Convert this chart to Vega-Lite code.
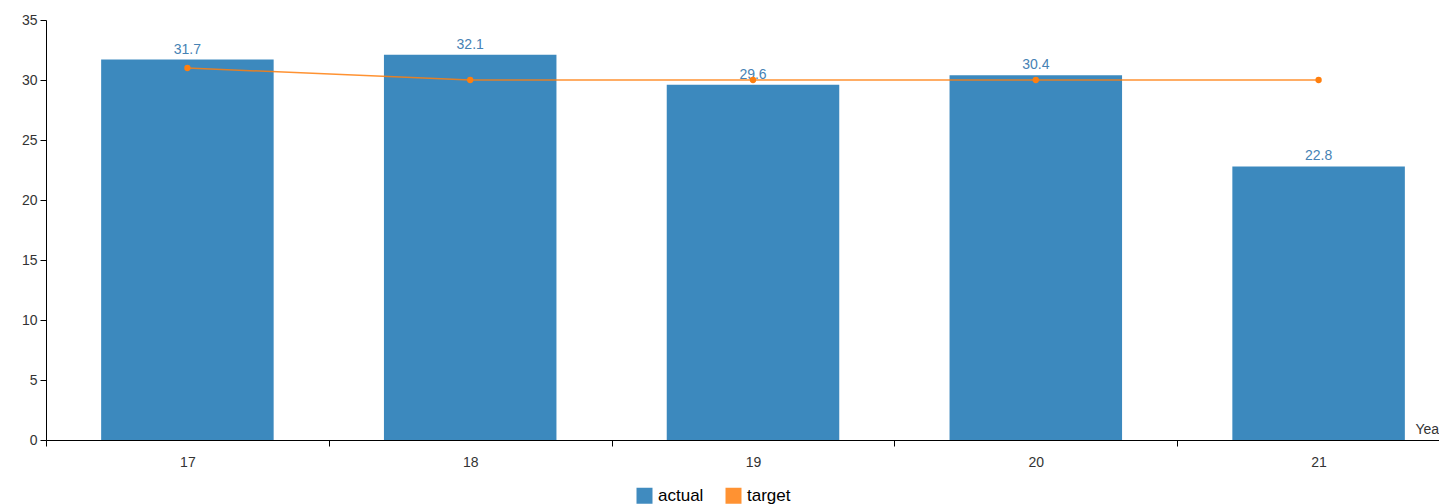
{
  "$schema": "https://vega.github.io/schema/vega-lite/v6.json",
  "autosize": {"type": "none"},
  "width": 1393,
  "height": 420,
  "padding": {"left": 46, "top": 20, "right": 0, "bottom": 64},
  "background": "white",
  "config": {
    "view": {"stroke": null},
    "font": "Liberation Sans",
    "axis": {"grid": false, "domainColor": "#000", "tickColor": "#000", "labelColor": "#333", "labelFont": "Liberation Sans", "labelFontSize": 14, "domainWidth": 1, "tickWidth": 1},
    "axisY": {"values": [0, 5, 10, 15, 20, 25, 30, 35], "tickSize": 6, "labelPadding": 3, "title": null}
  },
  "data": {
    "values": [
      {"year": "17", "actual": 31.7, "target": 31},
      {"year": "18", "actual": 32.1, "target": 30},
      {"year": "19", "actual": 29.6, "target": 30},
      {"year": "20", "actual": 30.4, "target": 30},
      {"year": "21", "actual": 22.8, "target": 30}
    ]
  },
  "encoding": {
    "x": {
      "field": "year", "type": "ordinal", "sort": null,
      "scale": {"type": "band", "range": [0, 1414], "paddingInner": 0, "paddingOuter": 0},
      "axis": {"title": "Year", "labelAngle": 0, "tickBand": "extent", "tickSize": 6, "labelPadding": 9, "titleX": 1369, "titleY": -7, "titleAlign": "left", "titleBaseline": "alphabetic", "titleFontWeight": "normal", "titleFontSize": 14, "titleColor": "#333", "titleFont": "Liberation Sans"}
    }
  },
  "layer": [
    {
      "mark": {"type": "bar", "width": {"band": 0.61}, "opacity": 0.87},
      "encoding": {
        "y": {"field": "actual", "type": "quantitative", "scale": {"domain": [0, 35]}, "axis": {"title": null, "values": [0, 5, 10, 15, 20, 25, 30, 35]}},
        "color": {"datum": "actual", "type": "nominal", "scale": {"domain": ["actual", "target"], "range": ["#1f77b4", "#ff7f0e"]},
          "legend": {"title": null, "orient": "none", "direction": "horizontal", "legendX": 590, "legendY": 467, "symbolType": "square", "symbolSize": 256, "symbolOpacity": 1, "symbolStrokeWidth": 0, "labelFontSize": 17, "labelColor": "#000", "labelFont": "Liberation Sans", "columnPadding": 21, "labelOffset": 5}}
      }
    },
    {
      "mark": {"type": "text", "baseline": "bottom", "dy": -3, "fontSize": 14, "color": "#4682b4"},
      "encoding": {
        "y": {"field": "actual", "type": "quantitative", "axis": {"title": null, "values": [0, 5, 10, 15, 20, 25, 30, 35]}},
        "text": {"field": "actual", "type": "quantitative", "format": ".1f"}
      }
    },
    {
      "mark": {"type": "line", "strokeWidth": 1.5, "opacity": 0.85, "point": {"filled": true, "size": 40, "opacity": 1}},
      "encoding": {
        "y": {"field": "target", "type": "quantitative", "axis": {"title": null, "values": [0, 5, 10, 15, 20, 25, 30, 35]}},
        "color": {"datum": "target", "type": "nominal"}
      }
    }
  ]
}
